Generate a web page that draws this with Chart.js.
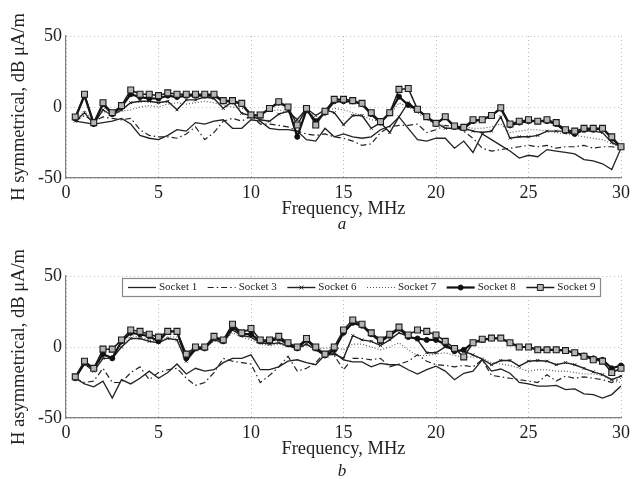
<!DOCTYPE html>
<html>
<head>
<meta charset="utf-8">
<script src="https://cdn.jsdelivr.net/npm/chart.js@4.4.0/dist/chart.umd.min.js"></script>
<style>
    body { margin: 0; background: #fff; }
    #pagina { position: relative; width: 634px; height: 479px; overflow: hidden; background: #fff; }
    .caixa { position: absolute; left: 0; width: 634px; }
    .letra { position: absolute; font-family: "Liberation Serif", serif; font-style: italic; font-size: 17px; color: #222; transform: translate(-50%, -50%); }
</style>
</head>
<body>
<div id="pagina">
    <div class="caixa" style="top:0;height:232px"><canvas id="grafico-a"></canvas></div>
    <div class="caixa" style="top:240px;height:239px"><canvas id="grafico-b"></canvas></div>
    <div class="letra" style="left:342px;top:224px">a</div>
    <div class="letra" style="left:342px;top:471px">b</div>
</div>
<script>
// Dados (frequência em MHz, H em dB µA/m)
const frequencias = [0.5, 1, 1.5, 2, 2.5, 3, 3.5, 4, 4.5, 5,
    5.5, 6, 6.5, 7, 7.5, 8, 8.5, 9, 9.5, 10,
    10.5, 11, 11.5, 12, 12.5, 13, 13.5, 14, 14.5, 15,
    15.5, 16, 16.5, 17, 17.5, 18, 18.5, 19, 19.5, 20,
    20.5, 21, 21.5, 22, 22.5, 23, 23.5, 24, 24.5, 25,
    25.5, 26, 26.5, 27, 27.5, 28, 28.5, 29, 29.5, 30];

const ticksX = [0, 5, 10, 15, 20, 25, 30];
const ticksY = [-50, 0, 50];
const nomesSeries = ['Socket 1', 'Socket 3', 'Socket 6', 'Socket 7', 'Socket 8', 'Socket 9'];

// a) simétrico
const socket1A = [-10, -11, -12, -11, -10, -8, -12, -20, -22, -23,
    -20, -16, -17, -11, -12, -10, -9, -15, -15, -9,
    -10, -15, -16, -16, -17, -23, -24, -15, -21, -19,
    -21, -22, -21, -16, -13.5, -7, -15, -23, -24, -22,
    -22, -29, -24, -32, -19, -23, -27, -31, -36, -34,
    -35, -30, -31, -32, -33, -37, -38, -40, -44, -29];
const socket3A = [-10, -6, -10, -7, -8, -9, -8, -16, -20, -21,
    -21, -22, -19, -14, -23, -18, -10, -8, -10, -6,
    -12, -12, -13, -14, -17, -19, -20, -19, -21, -22,
    -24, -27, -26, -18, -14, -13, -13, -12, -18, -16,
    -13, -14, -17, -22, -29, -31, -30, -29, -28, -27,
    -28, -27, -29, -28, -28, -27, -29, -28, -28, -29];
const socket6A = [-10, -4, -12, -2, -6, -2, 3, 4, 4, 3,
    4, -2, 5, 5, 7, 6, -1, 4, -4.5, -6,
    -9, -10, -5, -3, -9, -1, -6, -2, -4, -12.5,
    -6, -6, -15, -11, -18, -7, 3, -2, -7, -11,
    -15, -15, -15, -17, -18, -17, -7, -22, -21, -21,
    -20, -17, -17, -17, -17, -17, -17, -18, -25, -28];
const socket7A = [-9, -3, -9, -3, -5, -3, -2, 0, 1, 0,
    2, 3, 2, 3, 4, 3, 1, 0, -1, -3,
    -4, -3, -2, -4, -8, -4, -6, -3, -1, -2,
    -4, -6, -9, -10, -6, 3, 0, -4, -9, -12,
    -13, -13, -14, -15, -15, -14, -12, -18, -17, -16,
    -16, -17, -18, -19, -20, -21, -22, -23, -26, -29];
const socket8A = [-8, 8, -12, 2, -5, 0, 9, 7, 6, 6,
    8, 7, 8, 8, 8, 8, 4, 4, 2, -6,
    -6, -1, 3, 0, -21, -2, -10, -4, 4, 4,
    4, 2, -5, -11, -4, 7.3, 1.4, -2, -7, -12,
    -7, -14, -15, -10, -9, -6, -1, -13, -11, -10,
    -10, -10, -12, -17, -19, -16, -16, -15, -22, -28];
const socket9A = [-7, 9, -11, 3, -4, 1, 12, 9, 9, 8,
    10, 9, 9, 9, 9, 9, 4.5, 4.5, 2.6, -5.6,
    -5.6, -1, 3.7, 0, -12.7, -1, -12.7, -3, 5.4, 5.4,
    4.5, 2.6, -4, -10.3, -4, 12.4, 13, -1.6, -6.8, -11.5,
    -6.8, -13.4, -14.3, -9, -9, -6, -0.5, -12, -10, -9,
    -10, -9, -11, -16, -17, -15, -15, -15, -21, -28];

// b) assimétrico
const socket1B = [-22, -26, -28, -24, -36, -23, -26, -22, -17, -22,
    -18, -12, -19, -15, -17, -16, -11, -8, -8, -5.5,
    -16, -16, -14, -10, -9, -11, -12.5, -5.5, -4, -9,
    -10.5, -10.5, -14, -11.5, -12.5, -12.5, -16, -19, -16, -13.5,
    -17, -23, -18.5, -17, -9, -17, -15.5, -18.5, -25, -26,
    -27.5, -27.5, -27, -30, -29.5, -33, -33.5, -36, -33.5, -27.5];
const socket3B = [-22, -25, -24, -15, -25, -25, -18, -14, -23, -18,
    -16, -15, -22, -27, -25, -18, -8, -10, -11, -12,
    -25, -20, -14, -6.5, -17, -15, -11, -4, -6, -16,
    -8, -8, -9, -8, -14, -12, -10, -5.5, -10, -12.5,
    -13, -14, -13, -14, -9, -20, -21, -22, -23, -24,
    -25, -19.5, -24, -20.5, -22, -21, -22, -23, -25, -22];
const socket6B = [-22, -12, -17, -8, -8, 0, 6, 6, 4, 3,
    6, 5, -10, -2, -1, 5, 3, 12, 8, 7,
    3, 2, 3, 1, -1, 2, -2, -6, -5, -8,
    8, 5, 4, 1, 5, 10, 7.5, 5, -4, -4,
    0, -2, -3, -5.5, -8.5, -12.5, -9.5, -9.5, -13.5, -10,
    -9.5, -10, -12.5, -11, -12.5, -15, -17.5, -19.5, -23, -20.5];
const socket7B = [-21, -12, -16, -7, -6, 2, 8, 7, 5, 4,
    7, 7, -6, -1, 0, 4, 3, 10, 7, 5,
    2, 1, 2, 0, -1, 1, -1, -1, 0, -2,
    2, 2, 0, -2, 0, 3, -2, -6, -6, -5,
    -4, -6, -7, -7, -8, -11, -12, -13, -15, -17,
    -16, -16, -17, -17, -18, -19, -19, -20, -24, -25];
const socket8B = [-22, -11, -15, -5, -8, 4, 10, 9, 7.5, 4,
    11, 11, -8, -1, -1, 7, 4, 14, 9, 9,
    4, 4, 6, 2, -1, 5, -1, -6, -2, 10,
    17, 15, 9, 4, 8, 13, 7, 6, 5, 5,
    2, -3, -2, 3, 5, 6, 6, 3, 0, 0,
    -2, -2, -2, -2.5, -4, -6, -8, -9, -15, -13];
const socket9B = [-21, -10, -15, -1.5, -1.5, 5, 12, 11, 9, 7,
    11, 11, -5, 0, 0, 7.5, 5, 16, 10, 13,
    5, 5, 7.5, 3, 0, 6, 0, -5, 0, 12,
    19, 16, 10, 5, 9, 14, 8.5, 12, 11, 8.5,
    4, -1, -7, 3, 5.5, 6.3, 6.3, 3, 0, 0,
    -2, -2, -2, -2.5, -4, -6.5, -9, -10, -18, -15];

const FONTE = '"Liberation Serif", "Times New Roman", serif';

// estilo de cada tomada (igual nos dois gráficos)
const estilos = {
    'Socket 1': { borderColor: '#222', borderWidth: 1.3, pointRadius: 0, order: 5 },
    'Socket 3': { borderColor: '#222', borderWidth: 1.2, borderDash: [6, 3, 1.5, 3], pointRadius: 0, order: 4 },
    'Socket 6': { borderColor: '#222', borderWidth: 1.4, pointStyle: 'crossRot', pointRadius: 2, pointBorderWidth: 1, order: 3 },
    'Socket 7': { borderColor: '#555', borderWidth: 1.1, borderDash: [1, 2], pointRadius: 0, order: 2 },
    'Socket 8': { borderColor: '#111', borderWidth: 2.2, pointStyle: 'circle', pointRadius: 2.5, pointBackgroundColor: '#111', pointBorderWidth: 1, order: 1 },
    'Socket 9': { borderColor: '#1a1a1a', borderWidth: 1.5, pointStyle: 'rect', pointRadius: 4.2, pointBackgroundColor: '#b5b5b5', pointBorderWidth: 1.1, order: 0 }
};

function montarPontos(valores) {
    return frequencias.map((f, i) => ({ x: f, y: valores[i] }));
}

function montarDatasets(series) {
    return nomesSeries.map((nome, i) => Object.assign({
        label: nome,
        data: montarPontos(series[i]),
        fill: false,
        tension: 0,
        clip: 6,
        pointBorderColor: estilos[nome].borderColor
    }, estilos[nome]));
}

// desenha o marcador da legenda
function desenharMarcador(ctx, est, x, y) {
    if (!est.pointRadius) return;
    ctx.save();
    ctx.setLineDash([]);
    ctx.lineWidth = 1;
    ctx.strokeStyle = est.borderColor;
    ctx.fillStyle = est.pointBackgroundColor || est.borderColor;
    const r = est.pointRadius;
    ctx.beginPath();
    if (est.pointStyle === 'rect') {
        const s = r * Math.SQRT1_2;
        ctx.rect(x - s, y - s, 2 * s, 2 * s);
        ctx.fill();
        ctx.stroke();
    } else if (est.pointStyle === 'circle') {
        ctx.arc(x, y, r, 0, Math.PI * 2);
        ctx.fill();
        ctx.stroke();
    } else {
        ctx.moveTo(x - r, y - r); ctx.lineTo(x + r, y + r);
        ctx.moveTo(x - r, y + r); ctx.lineTo(x + r, y - r);
        ctx.stroke();
    }
    ctx.restore();
}

// Legenda com caixa dentro da área do gráfico
const legendaInterna = {
    id: 'legendaInterna',
    afterDatasetsDraw(chart, args, opts) {
        if (!opts.display) return;
        const ctx = chart.ctx;
        const area = chart.chartArea;
        const x0 = area.left + 56;
        const x1 = area.right - 21;
        const y0 = area.top + 2;
        const h = 18;
        ctx.save();
        ctx.fillStyle = '#fff';
        ctx.fillRect(x0, y0, x1 - x0, h);
        ctx.strokeStyle = '#888';
        ctx.lineWidth = 1.2;
        ctx.strokeRect(x0 + 0.5, y0 + 0.5, x1 - x0, h);
        const passo = (x1 - x0) / nomesSeries.length;
        const cy = y0 + h / 2 + 0.5;
        ctx.font = '11px ' + FONTE;
        ctx.textBaseline = 'middle';
        nomesSeries.forEach((nome, i) => {
            const est = estilos[nome];
            const lx = x0 + 6 + i * passo;
            ctx.setLineDash(est.borderDash || []);
            ctx.strokeStyle = est.borderColor;
            ctx.lineWidth = est.borderWidth;
            ctx.beginPath();
            ctx.moveTo(lx, cy);
            ctx.lineTo(lx + 28, cy);
            ctx.stroke();
            ctx.setLineDash([]);
            desenharMarcador(ctx, est, lx + 14, cy);
            ctx.fillStyle = '#222';
            ctx.fillText(nome, lx + 31, cy);
        });
        ctx.restore();
    }
};

function criarGrafico(idCanvas, series, tituloY, padTituloX, comLegenda) {
    const ctx = document.getElementById(idCanvas).getContext('2d');
    const alturaEixoX = idCanvas === 'grafico-a' ? 54 : 61;
    return new Chart(ctx, {
        type: 'line',
        data: { datasets: montarDatasets(series) },
        plugins: [legendaInterna],
        options: {
            responsive: true,
            maintainAspectRatio: false,
            animation: false,
            layout: { padding: { left: 0, right: 13, top: 36, bottom: 0 } },
            plugins: {
                legend: { display: false },
                tooltip: { enabled: false },
                legendaInterna: { display: comLegenda }
            },
            scales: {
                x: {
                    type: 'linear',
                    min: 0,
                    max: 30,
                    afterBuildTicks: (scale) => { scale.ticks = ticksX.map(v => ({ value: v })); },
                    afterFit: (scale) => { scale.height = alturaEixoX; },
                    grid: { color: '#b8b8b8', lineWidth: 1, drawTicks: false },
                    border: { display: true, color: '#808080', width: 1.2, dash: [1, 3] },
                    ticks: { color: '#222', padding: 4, maxRotation: 0, font: { family: FONTE, size: 18 } },
                    title: {
                        display: true,
                        text: 'Frequency, MHz',
                        color: '#222',
                        font: { family: FONTE, size: 18.5 },
                        padding: { top: 0, bottom: padTituloX }
                    }
                },
                y: {
                    min: -50,
                    max: 50,
                    afterBuildTicks: (scale) => { scale.ticks = ticksY.map(v => ({ value: v })); },
                    afterFit: (scale) => { scale.width = 66; },
                    grid: { color: '#b8b8b8', lineWidth: 1, drawTicks: false },
                    border: { display: true, color: '#808080', width: 1.2, dash: [1, 3] },
                    ticks: { color: '#222', padding: 4, font: { family: FONTE, size: 18 } },
                    title: {
                        display: true,
                        text: tituloY,
                        color: '#222',
                        font: { family: FONTE, size: 18.5 },
                        padding: { top: 8, bottom: 0 }
                    }
                }
            }
        }
    });
}

var graficoSimetrico = criarGrafico('grafico-a',
    [socket1A, socket3A, socket6A, socket7A, socket8A, socket9A],
    'H symmetrical, dB \u03BCA/m', 12, false);

var graficoAssimetrico = criarGrafico('grafico-b',
    [socket1B, socket3B, socket6B, socket7B, socket8B, socket9B],
    'H asymmetrical, dB \u03BCA/m', 19, true);
</script>
</body>
</html>
